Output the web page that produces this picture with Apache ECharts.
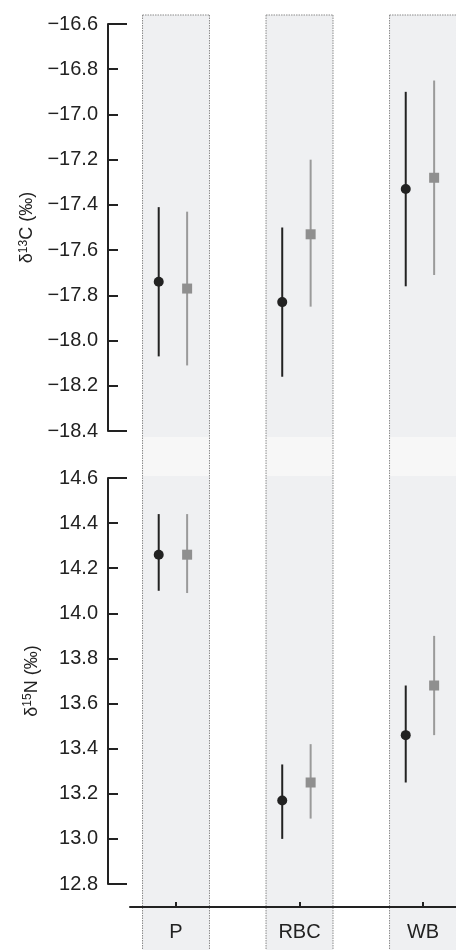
<!DOCTYPE html>
<html>
<head>
<meta charset="utf-8">
<script src="https://cdn.jsdelivr.net/npm/echarts@6/dist/echarts.min.js"></script>
<style>html,body{margin:0;padding:0;background:#fff}#c{width:456px;height:950px}</style>
</head>
<body>
<div id="c"></div>
<script>
// ---- data ----
const categories = ['P', 'RBC', 'WB'];
const c13BlackMean = [-17.74, -17.83, -17.33];
const c13BlackLow  = [-18.07, -18.16, -17.76];
const c13BlackHigh = [-17.41, -17.50, -16.90];
const c13GreyMean  = [-17.77, -17.53, -17.28];
const c13GreyLow   = [-18.11, -17.85, -17.71];
const c13GreyHigh  = [-17.43, -17.20, -16.85];
const n15BlackMean = [14.26, 13.17, 13.46];
const n15BlackLow  = [14.10, 13.00, 13.25];
const n15BlackHigh = [14.44, 13.33, 13.68];
const n15GreyMean  = [14.26, 13.25, 13.68];
const n15GreyLow   = [14.09, 13.09, 13.46];
const n15GreyHigh  = [14.44, 13.42, 13.90];
const c13Ticks = { min: -18.4, max: -16.6, interval: 0.2 };
const n15Ticks = { min: 12.8, max: 14.6, interval: 0.2 };

// ---- layout / style ----
const FONT = 'Liberation Sans, Arial, sans-serif';
const INK = '#222';
const GREY = '#8f8f8f';
const BLACK_OFF = -0.14, GREY_OFF = 0.09, BAND_HALF = 0.271;
const TOP = { top: 24, height: 407 }, BOT = { top: 478, height: 406 };
const BAND_Y0 = 15, GAP_Y0 = 437, GAP_Y1 = 476, BAND_Y1 = 950;

const chart = echarts.init(document.getElementById('c'));

function fmt(v) { return (v < 0 ? '\u2212' : '') + Math.abs(v).toFixed(1); }

function yAxisPair(grid, t, nameRich) {
  return [{
    gridIndex: grid, type: 'value', min: t.min, max: t.max, interval: t.interval,
    offset: 22, z: 5, position: 'left',
    name: nameRich, nameLocation: 'middle', nameGap: 66, nameRotate: 90,
    nameTextStyle: { rich: {
      n: { fontFamily: FONT, fontSize: 18, color: INK },
      s: { fontFamily: FONT, fontSize: 12, color: INK, padding: [0, 0, 8, 0] }
    } },
    axisLine: { show: true, onZero: false, lineStyle: { color: INK, width: 2 } },
    axisTick: { show: true, inside: true, length: 10, lineStyle: { color: INK, width: 2 } },
    axisLabel: { margin: 10, fontFamily: FONT, fontSize: 20, color: INK, formatter: fmt },
    splitLine: { show: false }
  }, {
    gridIndex: grid, type: 'value', min: t.min, max: t.max, interval: t.interval,
    offset: 22, z: 5, position: 'left',
    axisLine: { show: false, onZero: false },
    axisTick: { show: true, inside: true, length: 19, customValues: [t.min, t.max], lineStyle: { color: INK, width: 2 } },
    axisLabel: { show: false },
    splitLine: { show: false }
  }];
}

const yAxes = [].concat(
  yAxisPair(0, c13Ticks, '{n|δ}{s|13}{n|C (‰)}'),
  yAxisPair(1, n15Ticks, '{n|δ}{s|15}{n|N (‰)}')
);

const xRange = { min: -0.3725, max: 2.267 };

function errorSeries(xi, yi, mean, low, high, off, color, width) {
  return {
    type: 'custom', xAxisIndex: xi, yAxisIndex: yi, z: 3,
    data: categories.map((c, i) => [i + off, low[i], high[i]]),
    renderItem: function (params, api) {
      const p1 = api.coord([api.value(0), api.value(1)]);
      const p2 = api.coord([api.value(0), api.value(2)]);
      return { type: 'line', shape: { x1: p1[0], y1: p1[1], x2: p2[0], y2: p2[1] },
        style: { stroke: color, lineWidth: width } };
    }
  };
}
function pointSeries(xi, yi, mean, off, color, symbol, size) {
  return {
    type: 'scatter', xAxisIndex: xi, yAxisIndex: yi, z: 4,
    symbol: symbol, symbolSize: size,
    itemStyle: { color: color, opacity: 1 },
    data: categories.map((c, i) => [i + off, mean[i]])
  };
}

const bandSeries = {
  type: 'custom', xAxisIndex: 1, yAxisIndex: 2, z: 1, clip: false, silent: true,
  data: categories.map((c, i) => [i]),
  renderItem: function (params, api) {
    const xa = api.coord([api.value(0) - BAND_HALF, 13])[0];
    const xb = api.coord([api.value(0) + BAND_HALF, 13])[0];
    const w = xb - xa;
    const dash = { stroke: '#8a8a8a', lineWidth: 1, lineDash: [1.5, 1] };
    return { type: 'group', children: [
      { type: 'rect', shape: { x: xa, y: BAND_Y0, width: w, height: GAP_Y0 - BAND_Y0 }, style: { fill: '#eff0f2' } },
      { type: 'rect', shape: { x: xa, y: GAP_Y0, width: w, height: GAP_Y1 - GAP_Y0 }, style: { fill: '#f7f7f7' } },
      { type: 'rect', shape: { x: xa, y: GAP_Y1, width: w, height: BAND_Y1 - GAP_Y1 }, style: { fill: '#eff0f2' } },
      { type: 'line', shape: { x1: xa, y1: BAND_Y0, x2: xa, y2: BAND_Y1 }, style: dash },
      { type: 'line', shape: { x1: xb, y1: BAND_Y0, x2: xb, y2: BAND_Y1 }, style: dash },
      { type: 'line', shape: { x1: xa, y1: BAND_Y0, x2: xb, y2: BAND_Y0 }, style: dash }
    ] };
  }
};

chart.setOption({
  animation: false,
  backgroundColor: '#fff',
  grid: [
    { left: 130, right: 0, top: TOP.top, height: TOP.height },
    { left: 130, right: 0, top: BOT.top, height: BOT.height }
  ],
  xAxis: [
    { gridIndex: 0, type: 'value', min: xRange.min, max: xRange.max, show: false },
    { gridIndex: 1, type: 'value', min: xRange.min, max: xRange.max, offset: 23, z: 5,
      axisLine: { show: true, onZero: false, lineStyle: { color: INK, width: 2 } },
      axisTick: { show: true, inside: true, length: 5, customValues: [0, 1, 2], lineStyle: { color: INK, width: 2 } },
      axisLabel: { margin: 15, fontFamily: FONT, fontSize: 20, color: INK,
        customValues: [0, 1, 2], formatter: v => categories[Math.round(v)] },
      splitLine: { show: false } }
  ],
  yAxis: yAxes,
  series: [
    bandSeries,
    errorSeries(0, 0, c13BlackMean, c13BlackLow, c13BlackHigh, BLACK_OFF, INK, 2),
    errorSeries(0, 0, c13GreyMean, c13GreyLow, c13GreyHigh, GREY_OFF, '#9a9a9a', 2),
    pointSeries(0, 0, c13BlackMean, BLACK_OFF, INK, 'circle', 10),
    pointSeries(0, 0, c13GreyMean, GREY_OFF, GREY, 'rect', 10),
    errorSeries(1, 2, n15BlackMean, n15BlackLow, n15BlackHigh, BLACK_OFF, INK, 2),
    errorSeries(1, 2, n15GreyMean, n15GreyLow, n15GreyHigh, GREY_OFF, '#9a9a9a', 2),
    pointSeries(1, 2, n15BlackMean, BLACK_OFF, INK, 'circle', 10),
    pointSeries(1, 2, n15GreyMean, GREY_OFF, GREY, 'rect', 10)
  ]
});
</script>
</body>
</html>
